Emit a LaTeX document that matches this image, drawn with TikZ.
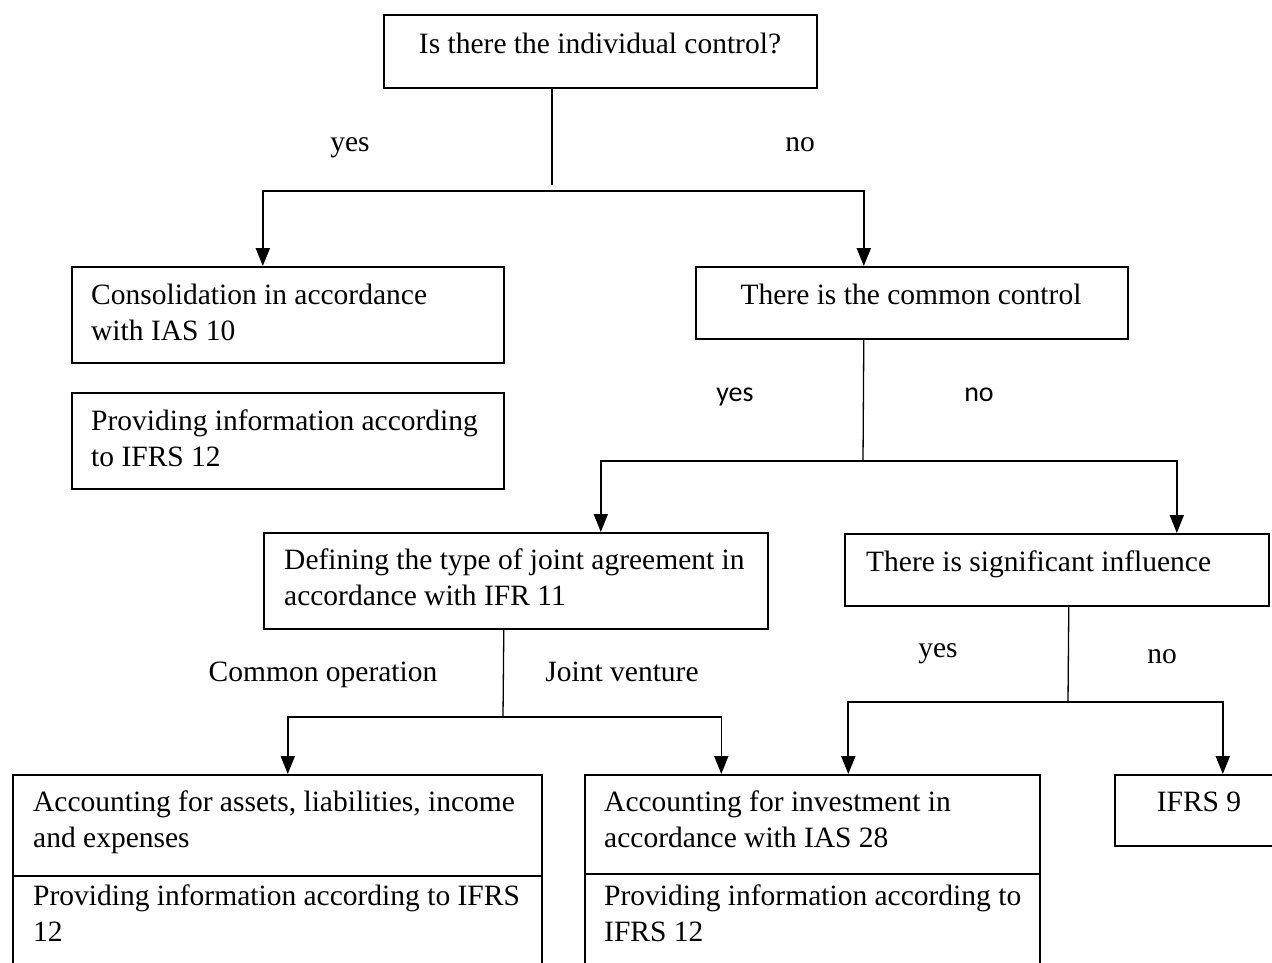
\documentclass[tikz,border=0pt]{standalone}
\usepackage{fontspec}
\setmainfont{Liberation Serif}
\newfontfamily\lblsans{Carlito}
\usetikzlibrary{arrows.meta}
\begin{document}
\begin{tikzpicture}[x=1pt,y=-1pt,
  box/.style={draw, line width=1.6pt, inner sep=0pt, anchor=north west},
  txt/.style={inner sep=0pt, font=\fontsize{29.5}{36}\selectfont, align=left},
  stxt/.style={inner sep=0pt, font=\lblsans\fontsize{28}{34}\selectfont},
  ln/.style={line width=1.3pt},
  arr/.style={line width=1.6pt, -{Triangle[length=18pt,width=14pt]}},
  arrthick/.style={line width=2.2pt, -{Triangle[length=18pt,width=14pt]}}]
\useasboundingbox (0,0) rectangle (1272,962);
\clip (0,0) rectangle (1272,962);
% boxes
\node[box, minimum width=433pt, minimum height=73pt] (A) at (383,14) {};
\node[box, minimum width=432pt, minimum height=96pt] (B) at (71,266) {};
\node[box, minimum width=432pt, minimum height=96pt] (B2) at (71,392) {};
\node[box, minimum width=432pt, minimum height=72pt] (C) at (695,266) {};
\node[box, minimum width=504pt, minimum height=96pt] (D) at (263,532) {};
\node[box, minimum width=424pt, minimum height=72pt] (E) at (844,533) {};
\node[box, minimum width=529pt, minimum height=101pt] (F1) at (12,774) {};
\node[box, minimum width=529pt, minimum height=110pt] (F2) at (12,875) {};
\node[box, minimum width=455pt, minimum height=99pt] (G1) at (584,774) {};
\node[box, minimum width=455pt, minimum height=110pt] (G2) at (584,873) {};
\node[box, minimum width=170pt, minimum height=71pt] (H) at (1114,774) {};
% texts
\node[txt, anchor=north] (tA) at (600,27.8) {\strut Is there the individual control?};
\node[txt, anchor=north west] (tB) at (91,278.8) {\strut Consolidation in accordance\\\strut with IAS 10};
\node[txt, anchor=north west] (tB2) at (91,404.8) {\strut Providing information according\\\strut to IFRS 12};
\node[txt, anchor=north] (tC) at (911,278.8) {\strut There is the common control};
\node[txt, anchor=north west] (tD) at (284,543.8) {\strut Defining the type of joint agreement in\\\strut accordance with IFR 11};
\node[txt, anchor=north west] (tE) at (866,545.8) {\strut There is significant influence};
\node[txt, anchor=north west] (tF1) at (33,785.8) {\strut Accounting for assets, liabilities, income\\\strut and expenses};
\node[txt, anchor=north west] (tF2) at (33,879.8) {\strut Providing information according to IFRS\\\strut 12};
\node[txt, anchor=north west] (tG1) at (604,785.8) {\strut Accounting for investment in\\\strut accordance with IAS 28};
\node[txt, anchor=north west] (tG2) at (604,879.8) {\strut Providing information according to\\\strut IFRS 12};
\node[txt, anchor=north] (tH) at (1199,785.8) {\strut IFRS 9};
% labels
\node[txt, anchor=base] (y1) at (350,151) {yes};
\node[txt, anchor=base] (n1) at (800,151) {no};
\node[stxt, anchor=base] (y2) at (735,401) {yes};
\node[stxt, anchor=base] (n2) at (979,401) {no};
\node[txt, anchor=base] (co) at (323,681) {Common operation};
\node[txt, anchor=base] (jv) at (622,681) {Joint venture};
\node[txt, anchor=base] (y3) at (938,657) {yes};
\node[txt, anchor=base] (n3) at (1162,663) {no};
% connectors
\coordinate (j1) at (552,191);
\coordinate (j1e) at (552,185);
\coordinate (j2) at (863,461);
\coordinate (j3) at (503,717);
\coordinate (j4) at (1068,702);
\draw[ln] (A.south -| j1) -- (j1e);
\draw[arrthick] (j1) -| ([xshift=-25pt]B.north);
\draw[arrthick] (j1) -| ([xshift=-48pt]C.north);
\draw[ln] ([xshift=-48pt]C.south) -- (j2);
\draw[arr] (j2) -| ([xshift=85pt]D.north);
\draw[arr] (j2) -| ([xshift=120pt]E.north);
\draw[ln] ([xshift=-12pt]D.south) -- (j3);
\draw[arr] (j3) -| ([xshift=10.5pt]F1.north);
\draw[arr] (j3) -| ([xshift=-91pt]G1.north);
\draw[ln] ([xshift=12pt]E.south) -- (j4);
\draw[arrthick] (j4) -| ([xshift=36pt]G1.north);
\draw[arrthick] (j4) -| ([xshift=23pt]H.north);
\end{tikzpicture}
\end{document}
